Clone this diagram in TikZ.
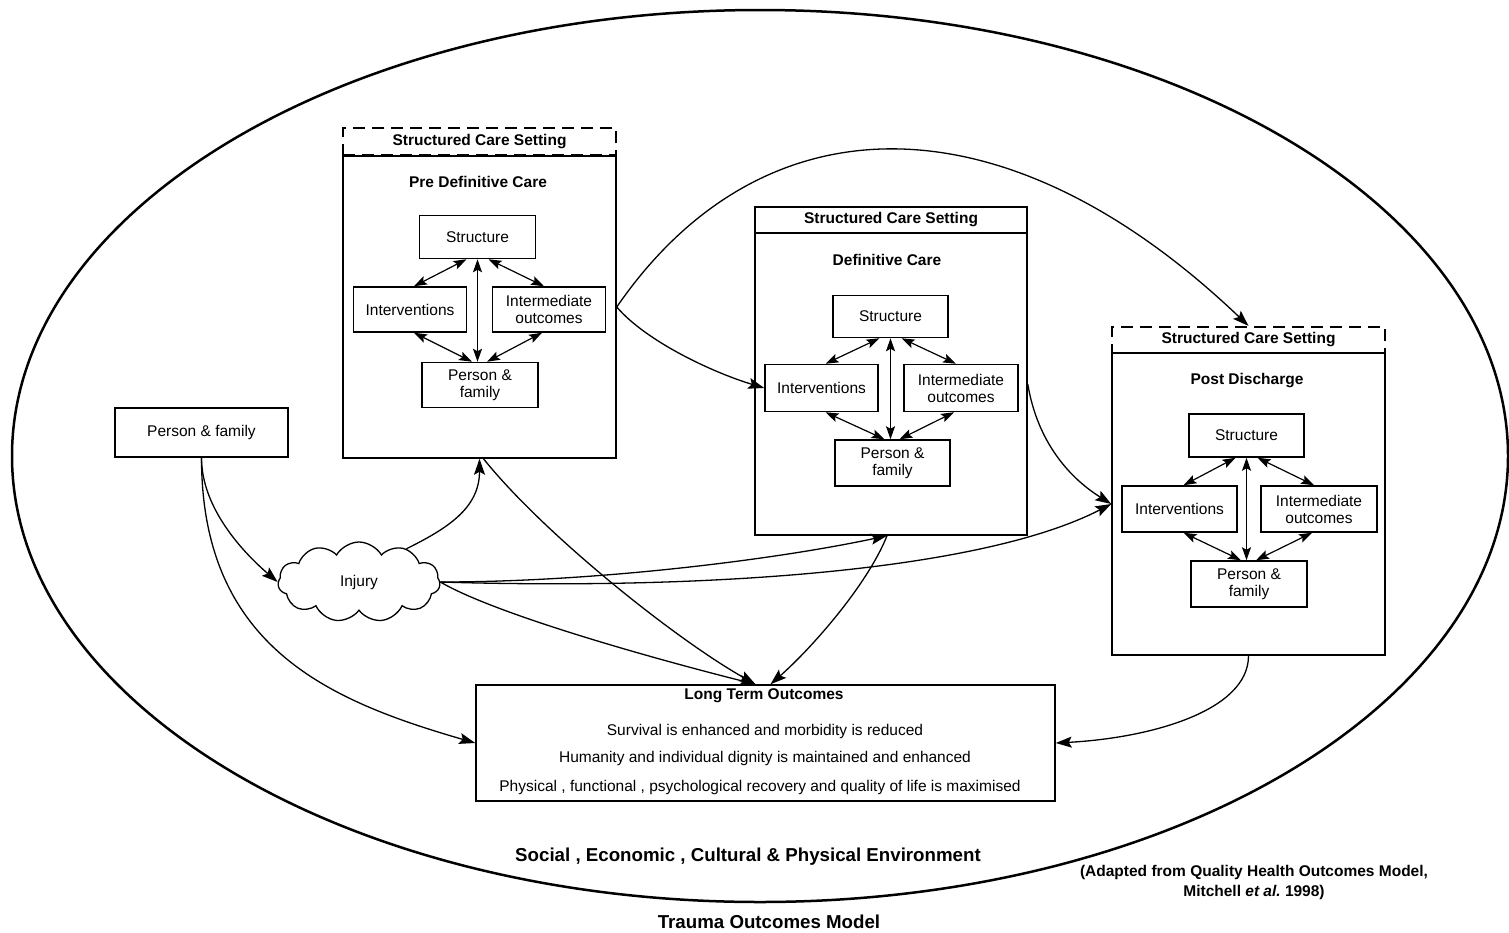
\documentclass[tikz,border=0pt]{standalone}
\usepackage{fontspec}
\setmainfont{Liberation Sans}
\usetikzlibrary{shapes.geometric,shapes.symbols,arrows.meta}

% the four linked elements inside one care setting: #1S, #1I, #1O, #1P
\newcommand\triad[1]{%
  \draw[both] ([xshift=-11pt]#1S.south) -- ([xshift=4pt]#1I.north);
  \draw[both] ([xshift=11pt]#1S.south) -- ([xshift=-5pt]#1O.north);
  \draw[both] (#1S.south) -- (#1S.south |- #1P.north);
  \draw[both] ([xshift=4pt]#1I.south) -- ([xshift=-8pt]#1P.north);
  \draw[both] ([xshift=-7pt]#1O.south) -- ([xshift=7pt]#1P.north);
}

\begin{document}
\begin{tikzpicture}[x=1pt,y=-1pt,
  every node/.style={font=\fontsize{15.5}{17}\selectfont, inner sep=0pt},
  lbl/.style={font=\bfseries\fontsize{15.5}{17}\selectfont},
  big/.style={font=\bfseries\fontsize{18.7}{21}\selectfont},
  frame/.style={draw, rectangle, line width=1.5pt},
  dashframe/.style={draw, rectangle, line width=2.2pt, dash pattern=on 12pt off 7pt},
  item/.style={frame, align=center},
  sz/.style 2 args={minimum width=#1, minimum height=#2},
  link/.style={line width=1.3pt, -{Stealth[length=16pt,width=11pt,inset=3pt]}},
  both/.style={line width=1.2pt, {Stealth[length=13pt,width=9pt,inset=2.5pt]}-{Stealth[length=13pt,width=9pt,inset=2.5pt]}},
]
\useasboundingbox (0,0) rectangle (1509,932);

% environment
\node[draw, ellipse, line width=2.5pt, sz={1496}{892}] (env) at (760,456) {};

% pre definitive care
\node[frame, sz={273}{302}] (pre) at (479.5,307) {};
\node[dashframe, sz={273}{27}, lbl] (preH) at (479.5,141.5) {Structured Care Setting};
\node[lbl] (preT) at (478,182) {Pre Definitive Care};
\node[item, sz={116}{43}] (aS) at (477.5,237) {Structure};
\node[item, sz={113}{45}] (aI) at (410,309.5) {Interventions};
\node[item, sz={113}{45}] (aO) at (549,309.5) {Intermediate\\outcomes};
\node[item, sz={116}{45}] (aP) at (480,385) {Person \&\\family};
\triad{a}

% definitive care
\node[frame, sz={272}{302}] (def) at (891,384) {};
\node[frame, sz={272}{26}, lbl] (defH) at (891,220) {Structured Care Setting};
\node[lbl] (defT) at (887,260) {Definitive Care};
\node[item, sz={115}{42}] (bS) at (890.5,316.5) {Structure};
\node[item, sz={113}{47}] (bI) at (821.5,388) {Interventions};
\node[item, sz={114}{47}] (bO) at (961,388) {Intermediate\\outcomes};
\node[item, sz={115}{46}] (bP) at (892.5,463) {Person \&\\family};
\triad{b}

% post discharge
\node[frame, sz={273}{302}] (post) at (1248.5,504) {};
\node[dashframe, sz={273}{26}, lbl] (postH) at (1248.5,340) {Structured Care Setting};
\node[lbl] (postT) at (1247,381) {Post Discharge};
\node[item, sz={115}{43}] (cS) at (1246.5,435.5) {Structure};
\node[item, sz={115}{46}] (cI) at (1179.5,509) {Interventions};
\node[item, sz={116}{46}] (cO) at (1319,509) {Intermediate\\outcomes};
\node[item, sz={116}{46}] (cP) at (1249,584) {Person \&\\family};
\triad{c}

% person, injury and long term outcomes
\node[item, sz={173}{49}] (pf) at (201.5,432.5) {Person \& family};
\node[draw, cloud, cloud puffs=11, cloud puff arc=120, aspect=2.1, line width=1.3pt, sz={162}{80}] (inj) at (359,582) {Injury};
\node[frame, sz={579}{116}] (lto) at (765.5,743) {};
\node[lbl] (ltoT) at (764,696) {Long Term Outcomes};
\node (lto1) at (765,731) {Survival is enhanced and morbidity is reduced};
\node (lto2) at (765,758) {Humanity and individual dignity is maintained and enhanced};
\node (lto3) at (760,787) {Physical , functional , psychological recovery and quality of life is maximised};

% connectors
\draw[link] (pf.south) .. controls +(0,50) and +(-35,-30) .. (inj.west);
\draw[link] (pf.south) .. controls +(0,190) and +(-145,-42) .. (lto.west);
\draw[link] (inj.35) .. controls +(40,-20) and +(0,50) .. (pre.south);
\draw[link] ([xshift=4pt]pre.south) .. controls +(60,75) and +(-80,-45) .. ([xshift=-10pt]lto.north);
\draw[link] (inj.east) .. controls +(60,35) and +(-80,-20) .. ([xshift=-10pt]lto.north);
\draw[link] (inj.east) .. controls +(160,0) and +(-107,23) .. ([xshift=-4pt]def.south);
\draw[link] (inj.east) .. controls +(260,8) and +(-132,68) .. (post.west);
\draw[link] ([xshift=-4pt]def.south) .. controls +(-20,50) and +(40,-35) .. ([xshift=5pt]lto.north);
\draw[link] (pre.east) .. controls +(30,35) and +(-50,-15) .. (bI.west);
\draw[link] (pre.east) .. controls +(146,-212) and +(-243,-232) .. (postH.north);
\draw[link] (def.east) .. controls +(10,60) and +(-40,-25) .. (post.west);
\draw[link] (post.south) .. controls +(0,55) and +(95,-5) .. (lto.east);

% captions
\node[big] (envT) at (748,857) {Social , Economic , Cultural \& Physical Environment};
\node[lbl, align=center] (src) at (1254,882) {(Adapted from Quality Health Outcomes Model,\\[3pt]Mitchell \textit{et al.}\ 1998)};
\node[big] (title) at (769,922) {Trauma Outcomes Model};
\end{tikzpicture}
\end{document}
